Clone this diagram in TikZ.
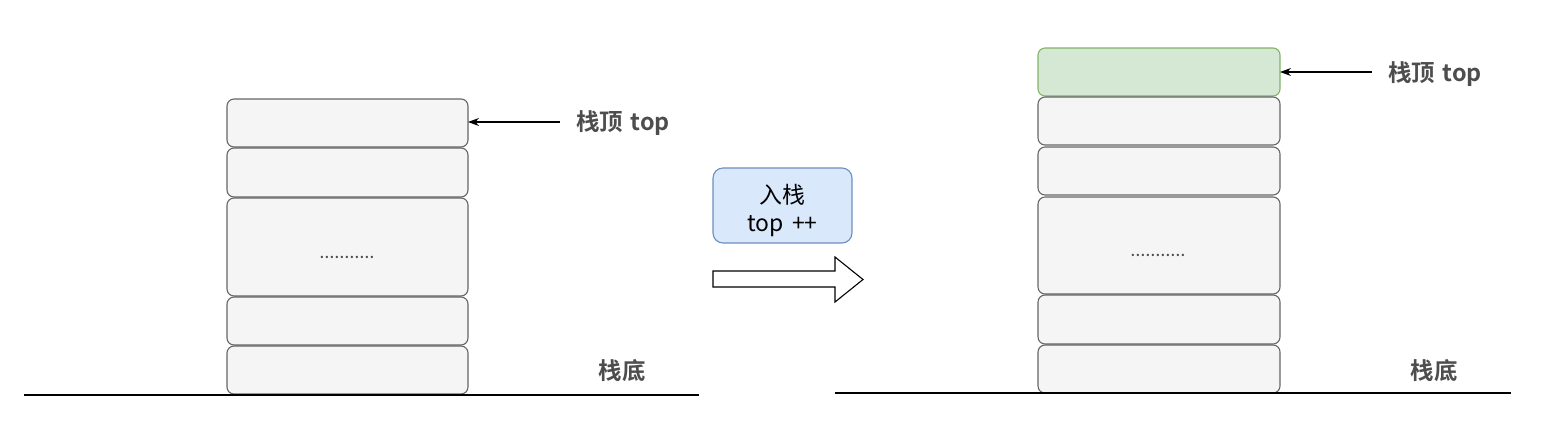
\documentclass[tikz,border=0pt]{standalone}
\usepackage{fontspec}
\usetikzlibrary{arrows.meta}
\setmainfont{Noto Sans CJK SC}[BoldFont={Noto Sans CJK SC Bold}]
\definecolor{grayfill}{HTML}{F5F5F5}
\definecolor{graystroke}{HTML}{666666}
\definecolor{greenfill}{HTML}{D5E8D4}
\definecolor{greenstroke}{HTML}{82B366}
\definecolor{bluefill}{HTML}{DAE8FC}
\definecolor{bluestroke}{HTML}{6C8EBF}
\definecolor{labeltext}{HTML}{4D4D4D}
\begin{document}
\begin{tikzpicture}[x=1bp,y=-1bp,
  cell/.style={draw=graystroke,fill=grayfill,rounded corners=7bp,line width=1.1bp},
  topcell/.style={draw=greenstroke,fill=greenfill,rounded corners=7bp,line width=1.1bp},
  lbl/.style={font=\fontsize{23.5}{27}\selectfont\bfseries,text=labeltext,inner sep=0},
  dots/.style={font=\fontsize{13}{15}\selectfont\bfseries,text=labeltext},
  ptr/.style={-{Stealth[length=11bp,width=8bp]},line width=1.1bp},
  ground/.style={line width=2.2bp}]
\useasboundingbox (0,0) rectangle (1559,429);
% left stack
\draw[cell] (227,99) rectangle (468,147);
\coordinate (ltop) at (468,122);
\draw[cell] (227,148) rectangle (468,197);
\draw[cell] (227,198) rectangle (468,296);
\node[dots] (ldots) at (347,257) {\addfontfeatures{LetterSpace=6}...........};
\draw[cell] (227,297) rectangle (468,345);
\draw[cell] (227,346) rectangle (468,394);
\coordinate (lg1) at (24,395);
\coordinate (lg2) at (699,395);
\draw[ground] (lg1) -- (lg2);
\coordinate (lptr) at (560,122);
\draw[ptr] (lptr) -- (ltop);
\node[lbl] (ltoplbl) at (623,123) {栈顶\hspace{8bp}top};
\node[lbl] (lbot) at (622,371) {栈底};
% middle
\node[draw=bluestroke,fill=bluefill,rounded corners=10bp,line width=1.1bp,
  minimum width=139bp,minimum height=75bp,inner sep=0] (push) at (782.5,205.5) {};
\node[align=center,inner sep=0,font=\fontsize{23}{29}\selectfont] (pushtxt)
  at ([yshift=-5bp]push.center) {入栈\\top\hspace{3bp} ++};
\draw[line width=1.1bp,fill=white] (713,271) -- (835,271) -- (835,257) -- (863,279.5)
  -- (835,302) -- (835,287) -- (713,287) -- cycle;
% right stack
\draw[topcell] (1038,48) rectangle (1280,96);
\coordinate (rtop) at (1280,72);
\draw[cell] (1038,97) rectangle (1280,145);
\draw[cell] (1038,147) rectangle (1280,195);
\draw[cell] (1038,197) rectangle (1280,294);
\node[dots] (rdots) at (1158,255) {\addfontfeatures{LetterSpace=6}...........};
\draw[cell] (1038,295) rectangle (1280,344);
\draw[cell] (1038,345) rectangle (1280,393);
\coordinate (rg1) at (835,393);
\coordinate (rg2) at (1511,393);
\draw[ground] (rg1) -- (rg2);
\coordinate (rptr) at (1372,72);
\draw[ptr] (rptr) -- (rtop);
\node[lbl] (rtoplbl) at (1435,74) {栈顶\hspace{8bp}top};
\node[lbl] (rbot) at (1434,371) {栈底};
\end{tikzpicture}
\end{document}
